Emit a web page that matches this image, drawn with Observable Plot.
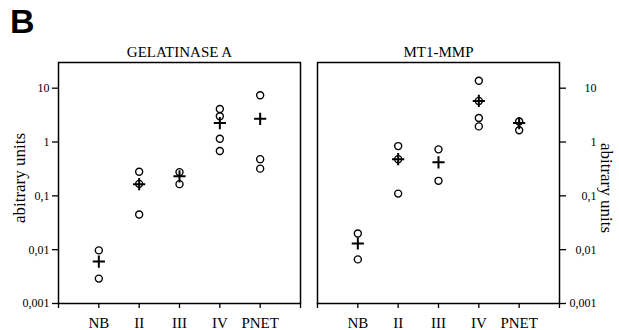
<!DOCTYPE html>
<html><head><meta charset="utf-8">
<script src="https://cdn.jsdelivr.net/npm/d3@7"></script>
<script src="https://cdn.jsdelivr.net/npm/@observablehq/plot@0.6"></script>
<style>
body{margin:0;background:#fff;}
#wrap{position:relative;width:619px;height:330px;overflow:hidden;font-family:"Liberation Serif",serif;}
#wrap svg{position:absolute;top:0;}
#panel{position:absolute;left:10px;top:4px;font:bold 34px/34px "Liberation Sans",Arial,sans-serif;}
</style></head><body>
<div id="wrap"><div id="panel">B</div></div>
<script>
const categories = ["NB","II","III","IV","PNET"];
const gelatinaseSamples = [[0.0097,0.0029],[0.28,0.167,0.045],[0.276,0.165],[4.1,3.0,1.15,0.68],[7.4,0.48,0.32]];
const gelatinaseMeans = [0.006,0.165,0.23,2.25,2.7];
const mt1Samples = [[0.02,0.0066],[0.84,0.48,0.11],[0.73,0.19],[13.7,5.8,2.8,1.95],[2.4,1.65]];
const mt1Means = [0.013,0.48,0.42,5.8,2.25];
const yTicks = [0.001,0.01,0.1,1,10];
const xTicks = [0,1,2,3,4,5,6];
const yLabel = "abitrary units";

const fmt = d => String(d).replace(".", ",");

function panel({title, samples, means, side, width, marginLeft, marginRight, left}) {
  const pts = samples.flatMap((arr, i) => arr.map(v => ({x: i + 1, v})));
  const mns = means.map((v, i) => ({x: i + 1, v}));
  const yMarks = side === "left"
    ? [Plot.axisY({anchor: "left", ticks: yTicks, tickFormat: fmt, tickSize: 6, tickPadding: 3, fontSize: 12, label: null, strokeWidth: 1.3})]
    : [Plot.axisY({anchor: "right", ticks: yTicks, tickFormat: () => "", tickSize: 6, label: null, strokeWidth: 1.3}),
       Plot.text(yTicks, {y: d => d, text: fmt, frameAnchor: "right", dx: 37, textAnchor: "end", fontSize: 12, fill: "black"})];
  const svg = Plot.plot({
    width, height: 330, marginLeft, marginRight, marginTop: 62, marginBottom: 27,
    style: {fontFamily: "Liberation Serif, serif", background: "transparent", color: "black"},
    x: {type: "linear", domain: [0, 6], axis: null},
    y: {type: "log", domain: [0.001, 30], axis: null},
    marks: [
      Plot.frame({stroke: "black", strokeWidth: 1.5}),
      Plot.axisX({ticks: xTicks, tickFormat: i => categories[i - 1] ?? "", tickSize: 5, tickPadding: 9, fontSize: 15, label: null, strokeWidth: 1.3}),
      ...yMarks,
      Plot.dot(pts, {x: "x", y: "v", r: 3.5, stroke: "black", strokeWidth: 1.4, fill: "none"}),
      Plot.dot(mns, {x: "x", y: "v", symbol: "plus", r: 4, stroke: "black", strokeWidth: 2}),
      Plot.text([title], {text: d => d, frameAnchor: "top", lineAnchor: "middle", dy: -10, fontSize: 15, fill: "black"}),
      Plot.text([yLabel], {text: d => d, frameAnchor: side, textAnchor: "middle", lineAnchor: "middle", dx: side === "left" ? -39 : 47, dy: side === "left" ? -5 : 5, rotate: side === "left" ? -90 : 90, fontSize: 17, fill: "black"})
    ]
  });
  svg.style.left = left + "px";
  document.getElementById("wrap").appendChild(svg);
}

panel({title: "GELATINASE A", samples: gelatinaseSamples, means: gelatinaseMeans, side: "left", width: 310, marginLeft: 58, marginRight: 10, left: 0});
panel({title: "MT1-MMP", samples: mt1Samples, means: mt1Means, side: "right", width: 309, marginLeft: 7, marginRight: 60, left: 310});
</script>
</body></html>
